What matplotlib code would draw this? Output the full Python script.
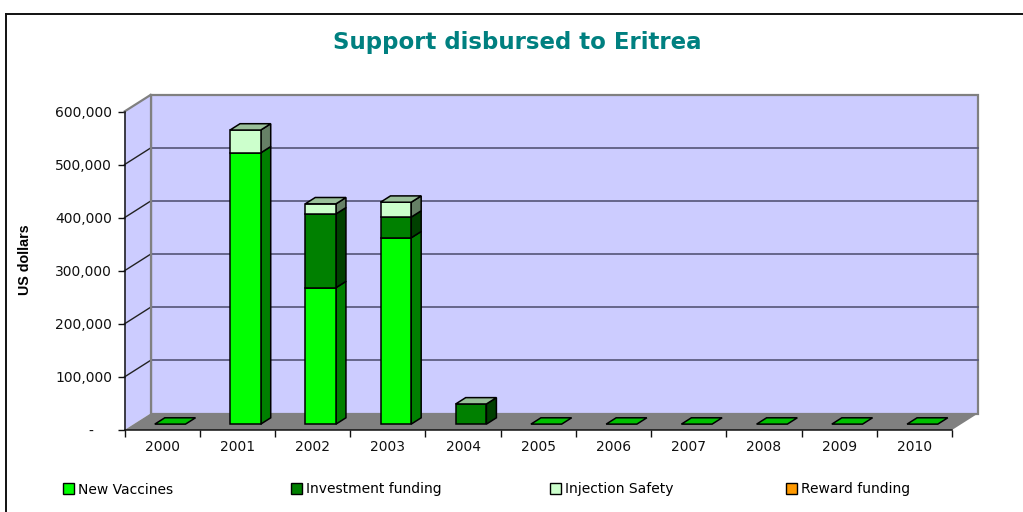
import matplotlib
matplotlib.use("Agg")
import matplotlib.pyplot as plt
from matplotlib.lines import Line2D
from matplotlib.patches import Polygon, Patch
from matplotlib.transforms import ScaledTranslation

years = ["2000", "2001", "2002", "2003", "2004", "2005", "2006", "2007", "2008", "2009", "2010"]
new_vaccines = [0, 511000, 257000, 351000, 0, 0, 0, 0, 0, 0, 0]
investment = [0, 0, 139000, 39000, 38000, 0, 0, 0, 0, 0, 0]
injection = [0, 43000, 19000, 28000, 0, 0, 0, 0, 0, 0, 0]
reward = [0, 0, 0, 0, 0, 0, 0, 0, 0, 0, 0]
y_ticks = [0, 100000, 200000, 300000, 400000, 500000, 600000]
y_labels = ["-", "100,000", "200,000", "300,000", "400,000", "500,000", "600,000"]
legend_names = ["New Vaccines", "Investment funding", "Injection Safety", "Reward funding"]
legend_colors = ["#00ff00", "#008000", "#ccffcc", "#ff9900"]

W, H = 1023, 512
L, R, T, B = 124.5, 952.0, 111.5, 430.0
fig = plt.figure(figsize=(W / 100, H / 100), dpi=100, facecolor="white")
ax = fig.add_axes([L / W, (H - B) / H, (R - L) / W, (B - T) / H])
ax.set_xlim(0, len(years))
ax.set_ylim(0, 600000)
ax.patch.set_visible(False)

# oblique projection: depth 0 = front plane, depth 1 = back wall
DX = 26 / ((R - L) / len(years))
DY = 16.5 / ((B - T) / 600000)


def pr(x, y, d=0.0):
    return (x + d * DX, y + d * DY)


def poly(points, fc, ec="none", lw=0.0, z=1):
    ax.add_patch(Polygon([pr(*p) for p in points], closed=True, fc=fc, ec=ec, lw=lw,
                         zorder=z, clip_on=False, joinstyle="miter"))


n = len(years)
WALL, FLOOR, GREY = "#ccccff", "#808080", "#808080"
poly([(0, 0, 1), (n, 0, 1), (n, 600000, 1), (0, 600000, 1)], WALL, GREY, 1.6, z=1)
poly([(0, 0, 0), (0, 0, 1), (0, 600000, 1), (0, 600000, 0)], WALL, z=1)
poly([(0, 0, 0), (n, 0, 0), (n, 0, 1), (0, 0, 1)], FLOOR, z=2)

for v in y_ticks[1:-1]:
    ax.plot(*zip(pr(0, v, 1), pr(n, v, 1)), color="#555577", lw=1.2, zorder=1.5, clip_on=False)
for v in y_ticks[1:]:
    c = GREY if v == 600000 else "#222222"
    ax.plot(*zip(pr(0, v, 0), pr(0, v, 1)), color=c, lw=1.0 if v < 600000 else 1.6, zorder=1.6, clip_on=False)
ax.plot(*zip(pr(0, 0, 1), pr(0, 600000, 1)), color=GREY, lw=1.6, zorder=1.7, clip_on=False)

# bars
D0, D1 = 0.356, 0.74
OFF, BW = 0.28, 0.408
series = [
    (new_vaccines, "#00ff00", "#008000"),
    (investment, "#008000", "#004000"),
    (injection, "#ccffcc", "#668066"),
    (reward, "#ff9900", "#804c00"),
]
EC = "#000000"
for i in range(n):
    x0, x1 = i + OFF, i + OFF + BW
    base = 0
    for vals, front, side in series:
        v = vals[i]
        if v <= 0:
            continue
        top = base + v
        poly([(x1, base, D0), (x1, base, D1), (x1, top, D1), (x1, top, D0)], side, EC, 1.1, z=3)
        poly([(x0, base, D0), (x1, base, D0), (x1, top, D0), (x0, top, D0)], front, EC, 1.1, z=4)
        base = top
    top_col = "#99bf99" if base > 0 else "#00bf00"
    poly([(x0, base, D0), (x1, base, D0), (x1, base, D1), (x0, base, D1)], top_col, EC, 1.1, z=5)

# axes
FONT = "DejaVu Sans"
for s in ("top", "right"):
    ax.spines[s].set_visible(False)
for s in ("left", "bottom"):
    ax.spines[s].set_color("#111111")
    ax.spines[s].set_linewidth(1.1)
    ax.spines[s].set_zorder(6)
ax.set_yticks(y_ticks)
ax.set_yticklabels(y_labels, fontsize=10, family=FONT, color="#111111")
ax.set_xticks(range(n + 1))
ax.set_xticklabels([])
ax.set_xticks([i + 0.5 for i in range(n)], minor=True)
ax.set_xticklabels(years, minor=True, fontsize=10, family=FONT, color="#111111")
ax.tick_params(axis="x", which="major", length=5, width=1.0, color="#111111")
ax.tick_params(axis="x", which="minor", length=0, pad=7)
ax.tick_params(axis="y", length=5, width=1.0, color="#111111", pad=4)

# the zero label sits left of the right-aligned numbers, as in an accounting format
zero_label = ax.get_yticklabels()[0]
zero_label.set_transform(zero_label.get_transform() + ScaledTranslation(-19 / 100, 0, fig.dpi_scale_trans))

ax.set_ylabel("US dollars", fontsize=10.3, fontweight="bold", family="Liberation Sans", color="black")
ax.yaxis.set_label_coords((32 - L) / (R - L), (B - 259.5) / (B - T))

fig.text(517.5 / W, 1 - 42 / H, "Support disbursed to Eritrea", ha="center", va="center",
         fontsize=16.5, fontweight="bold", family=FONT, color="#008080")

for name, color, xpos in zip(legend_names, legend_colors, (63, 291, 550, 786)):
    leg = fig.legend([Patch(fc=color, ec="black", lw=1.0)], [name], loc="center left",
                     bbox_to_anchor=(xpos / W, 1 - 489.5 / H), frameon=False, borderpad=0,
                     borderaxespad=0, handlelength=0.8, handleheight=0.8, handletextpad=0.3,
                     prop={"family": FONT, "size": 10})

# chart-area frame
fig.add_artist(Line2D([6 / W, 1], [1 - 14 / H, 1 - 14 / H], color="#111111", lw=1.4))
fig.add_artist(Line2D([6 / W, 6 / W], [0, 1 - 14 / H], color="#111111", lw=1.4))

fig.savefig("out.png", dpi=100, facecolor="white")
